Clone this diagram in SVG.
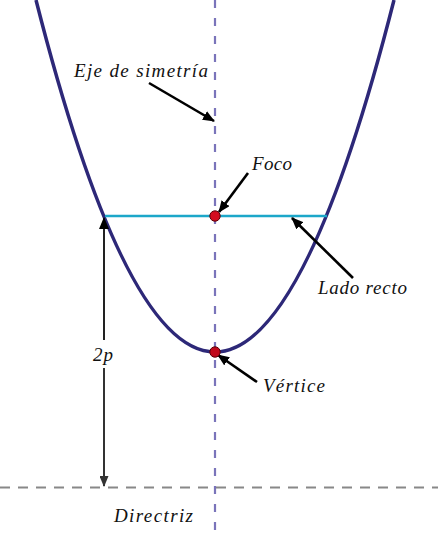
<svg xmlns="http://www.w3.org/2000/svg" width="438" height="539" viewBox="0 0 438 539">
<defs>
<style>
.lbl{font-family:"Liberation Serif","DejaVu Serif",serif;font-style:italic;font-size:19px;fill:#111}
.ptr{stroke:#000;stroke-width:2.6;fill:none;marker-end:url(#ah)}
</style>
<marker id="ah" viewBox="0 0 12 10" refX="11" refY="5" markerWidth="12" markerHeight="10" markerUnits="userSpaceOnUse" orient="auto">
<path d="M0,0 L12,5 L0,10 z" fill="#000"/>
</marker>
<marker id="ah2" viewBox="0 0 12 10" refX="11" refY="5" markerWidth="13" markerHeight="9" markerUnits="userSpaceOnUse" orient="auto">
<path d="M0,0 L12,5 L0,10 z" fill="#333"/>
</marker>
</defs>
<rect width="438" height="539" fill="#fff"/>
<g id="directrix">
<line x1="0" y1="487.5" x2="438" y2="487.5" stroke="#888" stroke-width="2" stroke-dasharray="10,8"/>
</g>
<g id="axis">
<line x1="215" y1="0" x2="215" y2="539" stroke="#7a74ba" stroke-width="2.2" stroke-dasharray="8,10"/>
</g>
<g id="parabola">
<path d="M36,0 Q215,704 394,0" fill="none" stroke="#2d2878" stroke-width="3.5"/>
</g>
<g id="lado-recto">
<line x1="105" y1="216" x2="327" y2="216" stroke="#1ca7c9" stroke-width="2.6"/>
</g>
<g id="connectors">
<line class="ptr" x1="149" y1="83" x2="214" y2="121"/>
<line class="ptr" x1="248" y1="173" x2="219" y2="212"/>
<line class="ptr" x1="353" y1="278" x2="292" y2="218"/>
<line class="ptr" x1="257" y1="382" x2="218" y2="355"/>
<line x1="104" y1="340" x2="104" y2="218" stroke="#222" stroke-width="2" marker-end="url(#ah)"/>
<line x1="104" y1="368" x2="104" y2="486" stroke="#333" stroke-width="2" marker-end="url(#ah2)"/>
</g>
<g id="foco">
<circle cx="215" cy="216" r="5.2" fill="#d40d1f" stroke="#5a0008" stroke-width="1"/>
</g>
<g id="vertice">
<circle cx="215" cy="352" r="5.2" fill="#c0081a" stroke="#5a0008" stroke-width="1"/>
</g>
<g id="labels">
<text class="lbl" x="74" y="77" textLength="134" lengthAdjust="spacing">Eje de simetría</text>
<text class="lbl" x="252" y="170" textLength="40" lengthAdjust="spacing">Foco</text>
<text class="lbl" x="318" y="294" textLength="89" lengthAdjust="spacing">Lado recto</text>
<text class="lbl" x="263" y="392" textLength="62" lengthAdjust="spacing">Vértice</text>
<text class="lbl" x="93" y="361" textLength="20" lengthAdjust="spacing">2p</text>
<text class="lbl" x="114" y="522" textLength="79" lengthAdjust="spacing">Directriz</text>
</g>
</svg>
